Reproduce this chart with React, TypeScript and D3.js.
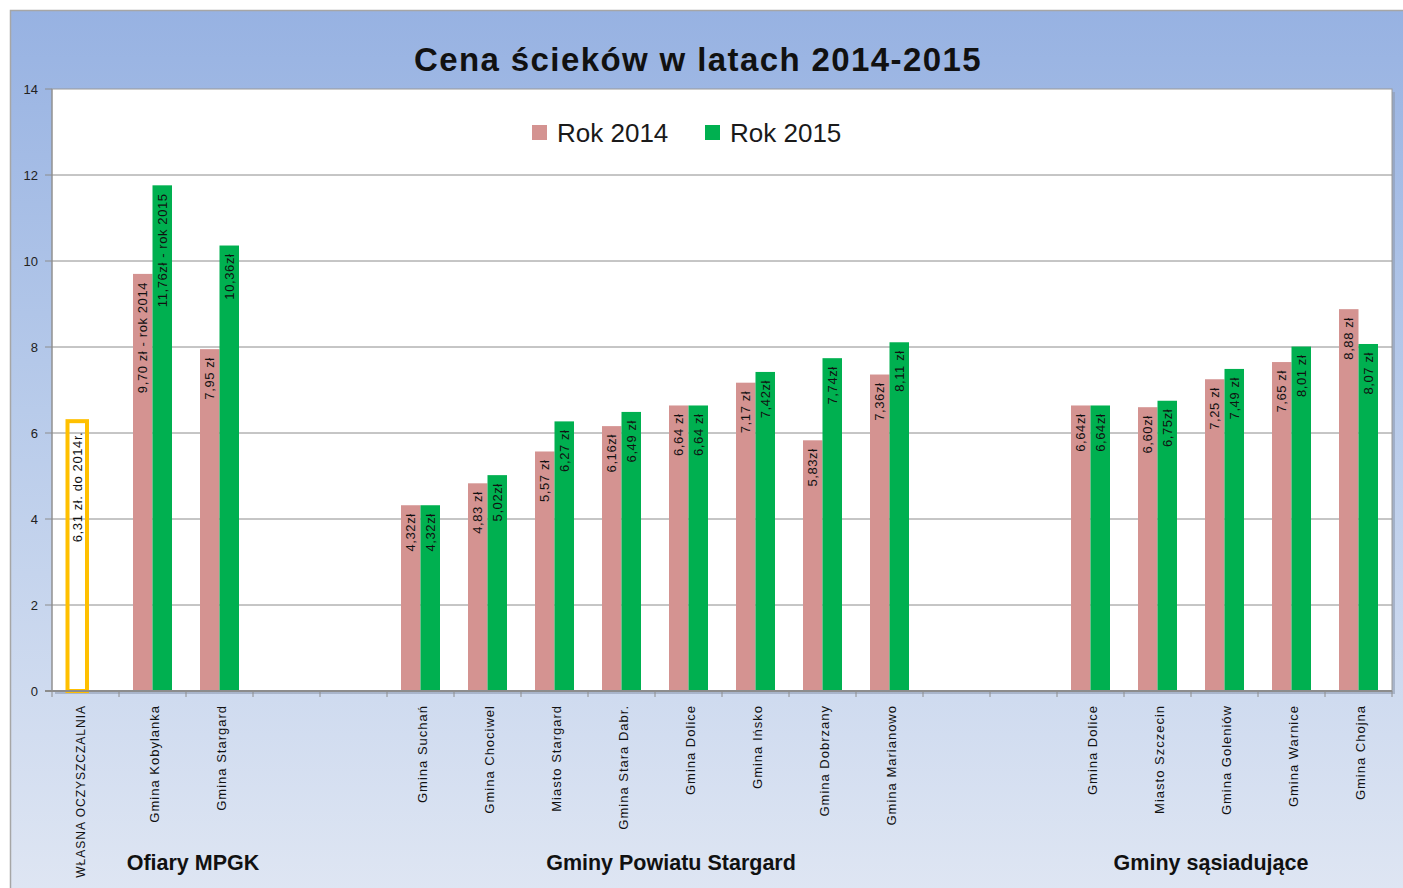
import React from "react";
import * as d3 from "d3";

const categories = [
  "WŁASNA OCZYSZCZALNIA", "Gmina Kobylanka", "Gmina Stargard", "", "",
  "Gmina Suchań", "Gmina Chociwel", "Miasto Stargard", "Gmina Stara Dabr.", "Gmina Dolice",
  "Gmina Ińsko", "Gmina Dobrzany", "Gmina Marianowo", "", "",
  "Gmina Dolice", "Miasto Szczecin", "Gmina Goleniów", "Gmina Warnice", "Gmina Chojna",
];
const values2014: (number | null)[] = [6.31, 9.70, 7.95, null, null, 4.32, 4.83, 5.57, 6.16, 6.64, 7.17, 5.83, 7.36, null, null, 6.64, 6.60, 7.25, 7.65, 8.88];
const values2015: (number | null)[] = [null, 11.76, 10.36, null, null, 4.32, 5.02, 6.27, 6.49, 6.64, 7.42, 7.74, 8.11, null, null, 6.64, 6.75, 7.49, 8.01, 8.07];
const labels2014 = ["6,31 zł. do 2014r.", "9,70 zł - rok 2014", "7,95 zł", "", "", "4,32zł", "4,83 zł", "5,57 zł", "6,16zł", "6,64 zł", "7,17 zł", "5,83zł", "7,36zł", "", "", "6,64zł", "6,60zł", "7,25 zł", "7,65 zł", "8,88 zł"];
const labels2015 = ["", "11,76zł - rok 2015", "10,36zł", "", "", "4,32zł", "5,02zł", "6,27 zł", "6,49 zł", "6,64 zł", "7,42zł", "7,74zł", "8,11 zł", "", "", "6,64zł", "6,75zł", "7,49 zł", "8,01 zł", "8,07 zł"];
const series = ["Rok 2014", "Rok 2015"];
const yTicks = [0, 2, 4, 6, 8, 10, 12, 14];
const groupNames = ["Ofiary MPGK", "Gminy Powiatu Stargard", "Gminy sąsiadujące"];
const groupCenters = [193, 671, 1211];
const title = "Cena ścieków w latach 2014-2015";

const COL14 = "#d49391";
const COL15 = "#00b050";
const COLOWN = "#ffc000";
const FONT = "'Liberation Sans', Arial, sans-serif";

export default function App() {
  const W = 1403, H = 888;
  const left = 52, right = 1392, top = 89, bottom = 691;
  const ids = categories.map((_, i) => String(i));
  const x = d3.scaleBand<string>().domain(ids).range([left, right]).paddingInner(0).paddingOuter(0);
  const xi = d3.scaleBand<string>().domain(series).range([0, x.bandwidth()]).paddingInner(0).paddingOuter(0.718);
  const y = d3.scaleLinear().domain([0, 14]).range([bottom, top]);

  const bars: React.ReactNode[] = [];
  const texts: React.ReactNode[] = [];
  categories.forEach((c, i) => {
    const x0 = x(String(i))!;
    [values2014, values2015].forEach((vals, s) => {
      const v = vals[i];
      if (v == null) return;
      const bx = x0 + xi(series[s])!;
      const bw = xi.bandwidth();
      const by = y(v);
      const own = i === 0;
      if (own) {
        bars.push(<rect key={`b${i}-${s}`} x={bx + 1.5} y={by + 1.5} width={bw} height={bottom - by - 1.5} fill="none" stroke={COLOWN} strokeWidth={4} />);
      } else {
        bars.push(<rect key={`b${i}-${s}`} x={bx} y={by} width={bw} height={bottom - by} fill={s === 0 ? COL14 : COL15} />);
      }
      const lab = (s === 0 ? labels2014 : labels2015)[i];
      const cx = bx + bw / 2 + (own ? 2 : 0);
      const ty = by + (own ? 12 : 8);
      texts.push(
        <text key={`t${i}-${s}`} transform={`translate(${cx},${ty}) rotate(-90)`} textAnchor="end" dominantBaseline="central" fontSize={13} letterSpacing={0.6} fill="#111" fontFamily={FONT}>{lab}</text>
      );
    });
  });

  return (
    <svg width={W} height={H} style={{ position: "absolute", left: 0, top: 0 }}>
      <defs>
        <linearGradient id="bg" x1="0" y1="0" x2="0" y2="1">
          <stop offset="0" stopColor="#97b2e2" />
          <stop offset="0.45" stopColor="#b8cbea" />
          <stop offset="1" stopColor="#dfe6f3" />
        </linearGradient>
      </defs>
      <rect x={0} y={0} width={W} height={H} fill="#fff" />
      <rect x={10.5} y={10.5} width={W} height={H} fill="url(#bg)" stroke="#a6a6a6" strokeWidth={1.5} />
      <text x={698} y={71} textAnchor="middle" fontSize={33} letterSpacing={1.4} fontWeight="bold" fontFamily={FONT} fill="#111">{title}</text>
      {/* plot shadow */}
      <rect x={left + 3} y={top + 3} width={right - left} height={bottom - top} fill="#8f9bb0" opacity={0.6} />
      <rect x={left} y={top} width={right - left} height={bottom - top} fill="#fff" stroke="#9a9a9a" strokeWidth={1} />
      {yTicks.map((t) => (
        <g key={`y${t}`}>
          {t > 0 && t < 14 && <line x1={left} x2={right} y1={y(t)} y2={y(t)} stroke="#8c8c8c" strokeWidth={1} />}
          <line x1={left - 7} x2={left} y1={y(t)} y2={y(t)} stroke="#8c8c8c" />
          <text x={38} y={y(t)} textAnchor="end" dominantBaseline="central" fontSize={13} fontFamily={FONT} fill="#222">{t}</text>
        </g>
      ))}
      {bars}
      {texts}
      <line x1={left - 7} x2={right} y1={bottom} y2={bottom} stroke="#8c8c8c" strokeWidth={2} />
      <line x1={left} x2={left} y1={top} y2={bottom} stroke="#8c8c8c" strokeWidth={1} />
      {d3.range(categories.length + 1).map((i) => {
        const xx = i < categories.length ? x(String(i))! : right;
        return <line key={`xt${i}`} x1={xx} x2={xx} y1={bottom} y2={bottom + 6} stroke="#8c8c8c" />;
      })}
      {categories.map((c, i) => (
        c ? <text key={`c${i}`} transform={`translate(${x(String(i))! + x.bandwidth() / 2 + (i === 0 ? -5 : 2)},${705}) rotate(-90)`} textAnchor="end" dominantBaseline="central" fontSize={i === 0 ? 12 : 13} letterSpacing={1} fontFamily={FONT} fill="#111">{c}</text> : null
      ))}
      {groupNames.map((g, i) => (
        <text key={`g${i}`} x={groupCenters[i]} y={870} textAnchor="middle" fontSize={21.5} fontWeight="bold" fontFamily={FONT} fill="#111">{g}</text>
      ))}
      {/* legend */}
      {series.map((s, i) => {
        const lx = [532, 705][i];
        return (
          <g key={`l${i}`}>
            <rect x={lx} y={125} width={15} height={15} fill={i === 0 ? COL14 : COL15} />
            <text x={lx + 25} y={133} dominantBaseline="central" fontSize={26} fontFamily={FONT} fill="#1a1a1a">{s}</text>
          </g>
        );
      })}
    </svg>
  );
}
